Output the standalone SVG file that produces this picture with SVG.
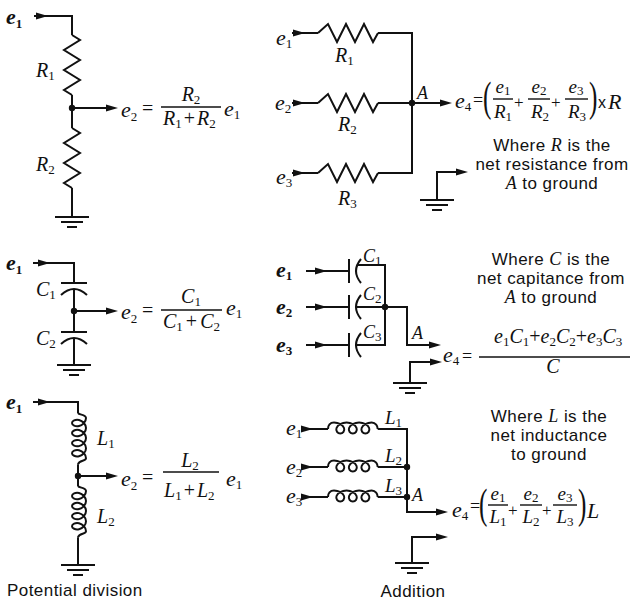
<svg xmlns="http://www.w3.org/2000/svg" width="633" height="600" viewBox="0 0 633 600">
<defs>
<style>
.w{fill:none;stroke:#111;stroke-width:2}
.g{fill:none;stroke:#111;stroke-width:2.2}
.k{fill:#111}
.bar{fill:none;stroke:#111;stroke-width:1.4}
.m{font-family:"Liberation Serif","Times New Roman",serif;font-style:italic;font-size:20px;fill:#111}
.e{font-size:22px}
.b{font-weight:bold}
.s{font-style:normal;font-size:13px}
.f{font-size:19px}
.n{font-style:normal}
.c{text-anchor:middle}
.p{font-style:normal;font-size:42px}
.pl{font-style:normal;font-size:17px}
.a{font-size:18px}
.lb{font-size:19px}
.eq{font-style:normal;font-size:18px}
.t{font-family:"Liberation Sans",Arial,sans-serif;font-size:17px;letter-spacing:0.45px;fill:#111;text-anchor:middle}
.i{font-family:"Liberation Serif","Times New Roman",serif;font-style:italic;font-size:18px}
</style>
<path id="ah" d="M0,0 L-12,-3.6 L-12,3.6 Z"/>
<circle id="dot" r="3.2"/>
<path id="gnd" d="M-17,0 H17 M-11,5 H11 M-5,10 H5"/>
<path id="zigV" d="M0,0 L8,5 L-8,15 L8,25 L-8,35 L8,45 L-8,55 L0,60"/>
<path id="zigH" d="M0,0 L10,-9 L19,9 L28,-9 L37,9 L46,-9 L55,9 L60,0"/>
<path id="capV" d="M-13,0 H13 M-13,12 Q0,0 13,12"/>
<path id="capH" d="M0,-12 V12 M12,-12 Q2,0 12,12"/>
<path id="coilV" d="M0,0 C1,2 8,1.5 8,5 c0,3.72 -3.33,7.17 -7,8.01 c-3.67,0.84 -7,-0.95 -7,-2.99 c0,-2.04 3.33,-3.83 7,-2.99 c3.67,0.84 7,4.3 7,8.02 c0,3.72 -3.33,7.17 -7,8.01 c-3.67,0.84 -7,-0.95 -7,-2.99 c0,-2.04 3.33,-3.83 7,-2.99 c3.67,0.84 7,4.3 7,8.02 c0,3.72 -3.33,7.17 -7,8.01 c-3.67,0.84 -7,-0.95 -7,-2.99 c0,-2.04 3.33,-3.83 7,-2.99 c3.67,0.84 7,4.3 7,8.02 c0,3.72 -3.33,7.17 -7,8.01 c-3.67,0.84 -7,-0.95 -7,-2.99 c0,-2.04 3.33,-3.83 7,-2.99 c3.67,0.84 7,4.3 7,8.02 c0,3 -7,2 -8,6"/>
<path id="coilH" d="M0,0 C0,-3.5 2,-6.5 6,-6.5 c4.65,0 8.96,2.62 10.01,5.5 c1.05,2.88 -1.19,5.5 -3.74,5.5 c-2.55,0 -4.79,-2.62 -3.74,-5.5 c1.05,-2.88 5.38,-5.5 10.03,-5.5 c4.65,0 8.96,2.62 10.01,5.5 c1.05,2.88 -1.19,5.5 -3.74,5.5 c-2.55,0 -4.79,-2.62 -3.74,-5.5 c1.05,-2.88 5.38,-5.5 10.03,-5.5 c4.65,0 8.96,2.62 10.01,5.5 c1.05,2.88 -1.19,5.5 -3.74,5.5 c-2.55,0 -4.79,-2.62 -3.74,-5.5 c1.05,-2.88 5.38,-5.5 10.03,-5.5 c4,0 6,3.5 6,6.5"/>
</defs>

<g id="connectors" class="w">
<path d="M34,16 H72 V35 M72,95 V128 M72,108 H112 M72,188 V217"/>
<path d="M292,33 H318 M378,33 H412 V173 H378 M292,103 H318 M378,103 H446 M292,173 H318 M437,200 V172 H462"/>
<path d="M33,263 H74 V283 M74,289 V332 M74,311 H112 M74,338 V365"/>
<path d="M306,271 H349 M306,307 H349 M306,345 H349 M357,265 H385 V345 H356 M356,307 H407 V345 H435 M410,383 V362 H436"/>
<path d="M33,402 H78 V413 M78,464.2 V486 M78,476 H112 M78,537.2 V565"/>
<path d="M302,429 H328 M302,467 H328 M302,497 H328 M377.7,429 H407 V512 H442 M377.7,467 H407 M377.7,497 H407 M412,563 V537 H442"/>
</g>

<g id="arrowheads" class="k">
<use href="#ah" x="48" y="16"/><use href="#ah" x="118" y="108"/>
<use href="#ah" x="305" y="33"/><use href="#ah" x="305" y="103"/><use href="#ah" x="305" y="173"/>
<use href="#ah" x="452" y="103"/><use href="#ah" x="468" y="172"/>
<use href="#ah" x="50" y="263"/><use href="#ah" x="118" y="311"/>
<use href="#ah" x="327" y="271"/><use href="#ah" x="327" y="307"/><use href="#ah" x="327" y="345"/>
<use href="#ah" x="441" y="345"/><use href="#ah" x="442" y="362"/>
<use href="#ah" x="50" y="402"/><use href="#ah" x="118" y="476"/>
<use href="#ah" x="313" y="429"/><use href="#ah" x="313" y="467"/><use href="#ah" x="313" y="497"/>
<use href="#ah" x="448" y="512"/><use href="#ah" x="448" y="537"/>
</g>

<g id="junctions" class="k">
<use href="#dot" x="72" y="108"/><use href="#dot" x="412" y="103"/>
<use href="#dot" x="74" y="311"/><use href="#dot" x="385" y="307"/>
<use href="#dot" x="78" y="476"/><use href="#dot" x="407" y="467"/><use href="#dot" x="407" y="497"/>
</g>

<g id="grounds" class="g">
<use href="#gnd" x="72" y="217"/><use href="#gnd" x="437" y="200"/>
<use href="#gnd" x="74" y="365"/><use href="#gnd" x="410" y="383"/>
<use href="#gnd" x="78" y="565"/><use href="#gnd" x="412" y="563"/>
</g>

<!-- Resistor potential divider -->
<g id="divR">
<use class="w" href="#zigV" x="72" y="35"/>
<use class="w" href="#zigV" x="72" y="128"/>
<text class="m e b" x="6" y="24">e<tspan class="s" dy="4">1</tspan></text>
<text class="m" x="36" y="77">R<tspan class="s" dy="3">1</tspan></text>
<text class="m" x="36" y="171">R<tspan class="s" dy="3">2</tspan></text>
<text class="m e" x="121" y="117">e<tspan class="s" dy="4">2</tspan></text>
<text class="m n" x="142" y="115">=</text>
<text class="m c" x="191" y="101">R<tspan class="s" dy="3">2</tspan></text>
<path class="bar" d="M161,107 H221"/>
<text class="m" x="163" y="125">R<tspan class="s" dy="3">1</tspan><tspan class="n" dx="2" dy="-3">+</tspan><tspan dx="2">R</tspan><tspan class="s" dy="3">2</tspan></text>
<text class="m e" x="224" y="116">e<tspan class="s" dy="3">1</tspan></text>
</g>

<!-- Resistor addition -->
<g id="addR">
<use class="w" href="#zigH" x="318" y="33"/>
<use class="w" href="#zigH" x="318" y="103"/>
<use class="w" href="#zigH" x="318" y="173"/>
<text class="m e" x="276" y="45">e<tspan class="s" dy="3">1</tspan></text>
<text class="m e" x="275" y="110">e<tspan class="s" dy="3">2</tspan></text>
<text class="m e" x="276" y="184">e<tspan class="s" dy="3">3</tspan></text>
<text class="m" x="335" y="62">R<tspan class="s" dy="3">1</tspan></text>
<text class="m" x="338" y="131">R<tspan class="s" dy="3">2</tspan></text>
<text class="m" x="338" y="205">R<tspan class="s" dy="3">3</tspan></text>
<text class="m a" x="417" y="99">A</text>
<text class="m e" x="455" y="108">e<tspan class="s" dy="3">4</tspan></text>
<text class="m eq" x="473" y="106">=</text>
<text class="m p" transform="translate(483,111) scale(0.6,1)">(</text>
<text class="m f c" x="503" y="93">e<tspan class="s" dy="2">1</tspan></text>
<path class="bar" d="M493,99 H513"/>
<text class="m f c" x="503" y="118">R<tspan class="s" dy="3">1</tspan></text>
<text class="m pl" x="514" y="108">+</text>
<text class="m f c" x="539" y="93">e<tspan class="s" dy="2">2</tspan></text>
<path class="bar" d="M528,99 H550"/>
<text class="m f c" x="540" y="118">R<tspan class="s" dy="3">2</tspan></text>
<text class="m pl" x="551" y="108">+</text>
<text class="m f c" x="576" y="93">e<tspan class="s" dy="2">3</tspan></text>
<path class="bar" d="M565,99 H588"/>
<text class="m f c" x="577" y="118">R<tspan class="s" dy="3">3</tspan></text>
<text class="m p" transform="translate(589,111) scale(0.6,1)">)</text>
<text x="598" y="108" style="font-family:'Liberation Sans',Arial,sans-serif;font-size:16px;fill:#111">x</text>
<text class="m e" x="608" y="109">R</text>
<text class="t" x="552" y="151">Where <tspan class="i">R</tspan> is the</text>
<text class="t" x="552" y="170">net resistance from</text>
<text class="t" x="552" y="189"><tspan class="i">A</tspan> to ground</text>
</g>

<!-- Capacitor potential divider -->
<g id="divC">
<use class="w" href="#capV" x="74" y="283"/>
<use class="w" href="#capV" x="74" y="332"/>
<text class="m e b" x="6" y="270">e<tspan class="s" dy="4">1</tspan></text>
<text class="m" x="36" y="296">C<tspan class="s" dy="3">1</tspan></text>
<text class="m" x="36" y="345">C<tspan class="s" dy="3">2</tspan></text>
<text class="m e" x="121" y="319">e<tspan class="s" dy="4">2</tspan></text>
<text class="m n" x="142" y="317">=</text>
<text class="m c" x="191" y="303">C<tspan class="s" dy="3">1</tspan></text>
<path class="bar" d="M161,310 H222"/>
<text class="m" x="163" y="328">C<tspan class="s" dy="3">1</tspan><tspan class="n" dx="3" dy="-3">+</tspan><tspan dx="3">C</tspan><tspan class="s" dy="3">2</tspan></text>
<text class="m e" x="226" y="315">e<tspan class="s" dy="3">1</tspan></text>
</g>

<!-- Capacitor addition -->
<g id="addC">
<use class="w" href="#capH" x="349" y="271"/>
<use class="w" href="#capH" x="349" y="307"/>
<use class="w" href="#capH" x="349" y="345"/>
<text class="m e b" x="276" y="277">e<tspan class="s" dy="3">1</tspan></text>
<text class="m e b" x="276" y="314">e<tspan class="s" dy="3">2</tspan></text>
<text class="m e b" x="276" y="352">e<tspan class="s" dy="3">3</tspan></text>
<text class="m a" x="363" y="262">C<tspan class="s" dy="3">1</tspan></text>
<text class="m a" x="363" y="300">C<tspan class="s" dy="3">2</tspan></text>
<text class="m a" x="363" y="338">C<tspan class="s" dy="3">3</tspan></text>
<text class="m a" x="412" y="339">A</text>
<text class="m e" x="443" y="362">e<tspan class="s" dy="3">4</tspan></text>
<text class="m eq" x="462" y="362">=</text>
<path class="bar" d="M479,357 H630"/>
<text class="m" x="494" y="343">e<tspan class="s" dy="3">1</tspan><tspan dy="-3">C</tspan><tspan class="s" dy="3">1</tspan><tspan class="n" dy="-3">+</tspan><tspan>e</tspan><tspan class="s" dy="3">2</tspan><tspan dy="-3">C</tspan><tspan class="s" dy="3">2</tspan><tspan class="n" dy="-3">+</tspan><tspan>e</tspan><tspan class="s" dy="3">3</tspan><tspan dy="-3">C</tspan><tspan class="s" dy="3">3</tspan></text>
<text class="m c" x="553" y="373">C</text>
<text class="t" x="551" y="265">Where <tspan class="i">C</tspan> is the</text>
<text class="t" x="551" y="284">net capitance from</text>
<text class="t" x="551" y="303"><tspan class="i">A</tspan> to ground</text>
</g>

<!-- Inductor potential divider -->
<g id="divL">
<use class="w" href="#coilV" x="78" y="413"/>
<use class="w" href="#coilV" x="78" y="486"/>
<text class="m e b" x="6" y="409">e<tspan class="s" dy="4">1</tspan></text>
<text class="m" x="97" y="445">L<tspan class="s" dy="3">1</tspan></text>
<text class="m" x="97" y="523">L<tspan class="s" dy="3">2</tspan></text>
<text class="m e" x="121" y="486">e<tspan class="s" dy="4">2</tspan></text>
<text class="m n" x="142" y="484">=</text>
<text class="m c" x="190" y="467">L<tspan class="s" dy="3">2</tspan></text>
<path class="bar" d="M163,472 H219"/>
<text class="m" x="164" y="497">L<tspan class="s" dy="3">1</tspan><tspan class="n" dx="2" dy="-3">+</tspan><tspan dx="2">L</tspan><tspan class="s" dy="3">2</tspan></text>
<text class="m e" x="226" y="486">e<tspan class="s" dy="3">1</tspan></text>
<text class="t" x="7" y="596" style="text-anchor:start">Potential division</text>
</g>

<!-- Inductor addition -->
<g id="addL">
<use class="w" href="#coilH" x="328" y="429"/>
<use class="w" href="#coilH" x="328" y="467"/>
<use class="w" href="#coilH" x="328" y="497"/>
<text class="m e" x="286" y="435">e<tspan class="s" dy="3">1</tspan></text>
<text class="m e" x="286" y="474">e<tspan class="s" dy="3">2</tspan></text>
<text class="m e" x="286" y="503">e<tspan class="s" dy="3">3</tspan></text>
<text class="m lb" x="385" y="424">L<tspan class="s" dy="3">1</tspan></text>
<text class="m lb" x="385" y="462">L<tspan class="s" dy="3">2</tspan></text>
<text class="m lb" x="385" y="492">L<tspan class="s" dy="3">3</tspan></text>
<text class="m a" x="412" y="501">A</text>
<text class="m e" x="452" y="517">e<tspan class="s" dy="3">4</tspan></text>
<text class="m eq" x="470" y="512">=</text>
<text class="m p" transform="translate(479,518) scale(0.6,1)">(</text>
<text class="m f c" x="498" y="500">e<tspan class="s" dy="2">1</tspan></text>
<path class="bar" d="M488,505 H508"/>
<text class="m f c" x="498" y="523">L<tspan class="s" dy="3">1</tspan></text>
<text class="m pl" x="508" y="516">+</text>
<text class="m f c" x="531" y="500">e<tspan class="s" dy="2">2</tspan></text>
<path class="bar" d="M520,505 H542"/>
<text class="m f c" x="531" y="523">L<tspan class="s" dy="3">2</tspan></text>
<text class="m pl" x="542" y="516">+</text>
<text class="m f c" x="565" y="500">e<tspan class="s" dy="2">3</tspan></text>
<path class="bar" d="M553,505 H577"/>
<text class="m f c" x="565" y="523">L<tspan class="s" dy="3">3</tspan></text>
<text class="m p" transform="translate(578,518) scale(0.6,1)">)</text>
<text class="m e" x="587" y="518">L</text>
<text class="t" x="549" y="422">Where <tspan class="i">L</tspan> is the</text>
<text class="t" x="549" y="441">net inductance</text>
<text class="t" x="549" y="460">to ground</text>
<text class="t" x="413" y="597">Addition</text>
</g>
</svg>
